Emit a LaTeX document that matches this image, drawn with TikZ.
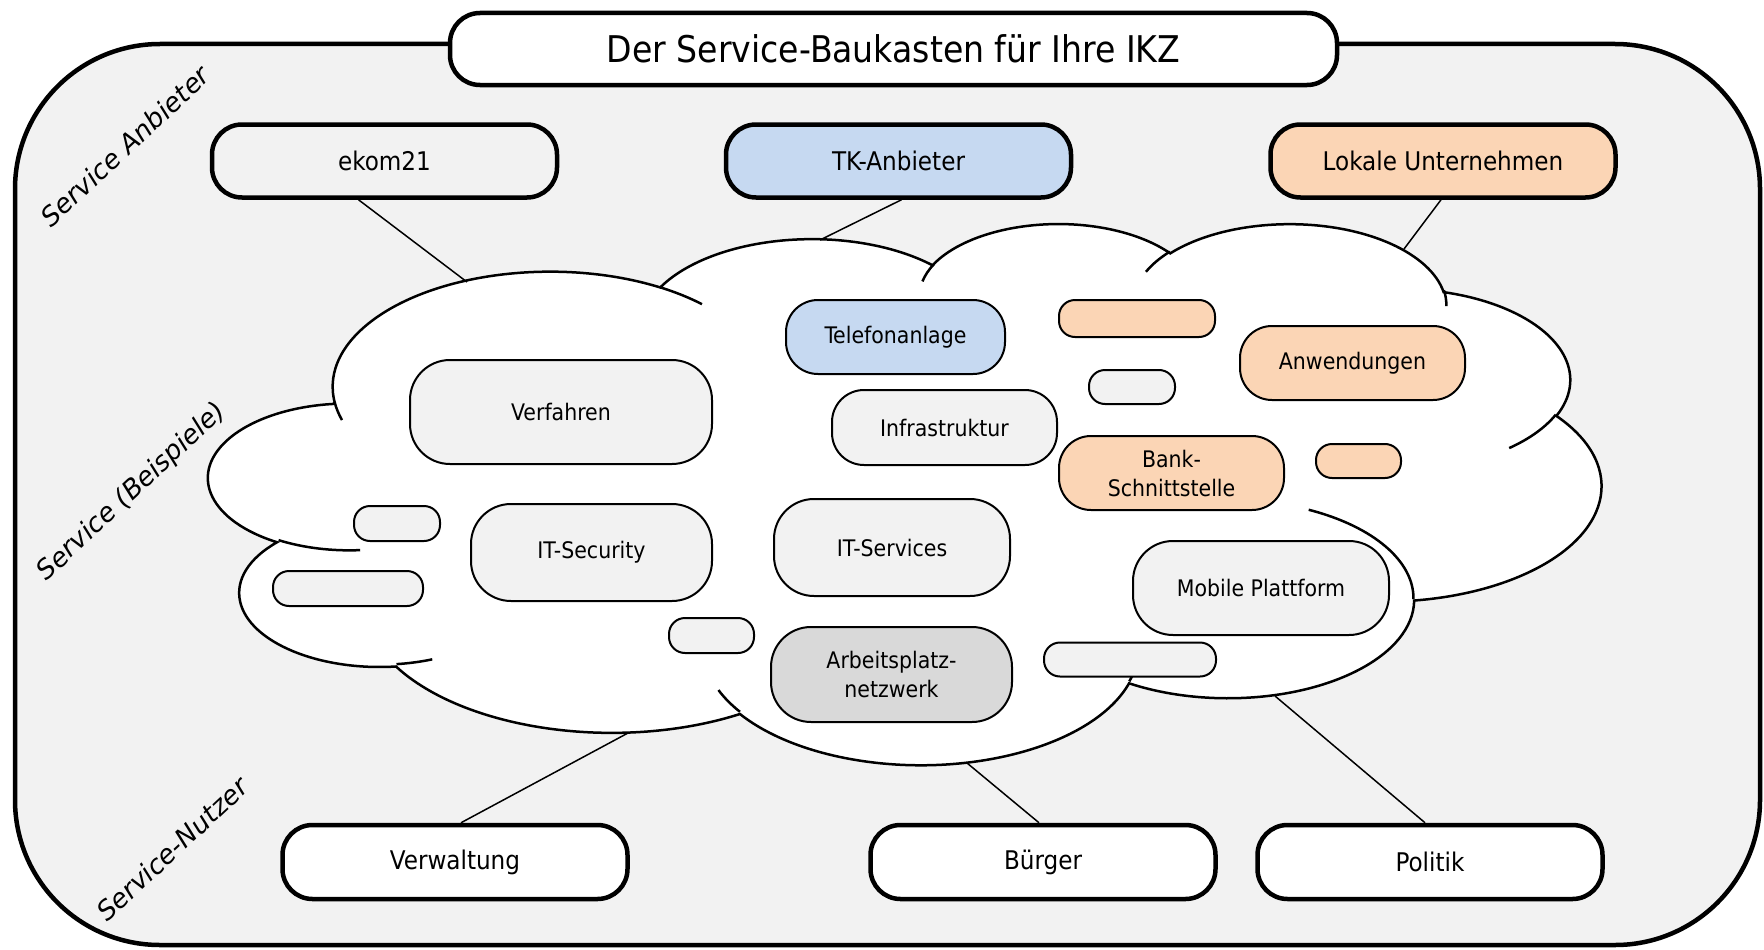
\documentclass[tikz,border=0pt]{standalone}
\usepackage{fontspec}
\setmainfont{DejaVu Sans Condensed}
\newfontfamily\labelfont{DejaVu Sans}
\definecolor{bggray}{HTML}{F2F2F2}
\definecolor{tkblue}{HTML}{C6D9F1}
\definecolor{peach}{HTML}{FBD5B5}
\definecolor{midgray}{HTML}{D9D9D9}
\def\cX{209}\def\cY{222.3}\def\cW{1392}\def\cH{541}
% arguments in thousandths of the 43200 grid (i.e. 6.753 for 6753)
\newcommand\defarc[5]{%
  \pgfmathsetmacro\tmprx{#2/43.2*\cW}%
  \pgfmathsetmacro\tmpry{#3/43.2*\cH}%
  \pgfmathsetmacro\tmpa{-atan2(sin(#4)*#2, cos(#4)*#3)}%
  \pgfmathsetmacro\tmpbr{-atan2(sin(#4+#5)*#2, cos(#4+#5)*#3)}%
  \pgfmathsetmacro\tmpb{\tmpbr+360*round((\tmpa-(#5)-\tmpbr)/360)}%
  \edef\tmpdo{\noexpand\tikzset{#1/.style={x radius=\tmprx pt, y radius=\tmpry pt, start angle=\tmpa, end angle=\tmpb}}}%
  \tmpdo}
\newcommand\cpt[3]{\coordinate (#1) at ({\cX+#2/43.2*\cW},{\cY+#3/43.2*\cH});}
\begin{document}
\begin{tikzpicture}[x=1pt,y=-1pt,
  base/.style={draw=black, rectangle, inner sep=0pt, align=center, text=black},
  provbox/.style={base, line width=4.5pt, minimum width=345pt, minimum height=73pt, rounded corners=30pt, font=\fontsize{25.7pt}{30pt}\selectfont},
  inbox/.style={base, line width=2pt, rounded corners=32pt, font=\fontsize{22.8pt}{29pt}\selectfont},
  bigbox/.style={inbox, rounded corners=40pt},
  smallbox/.style={base, line width=2pt, rounded corners=16pt},
  conn/.style={draw=black, line width=1.5pt},
  cloudline/.style={draw=black, line width=2.5pt},
  sidelabel/.style={font=\labelfont\itshape\fontsize{26.5pt}{30pt}\selectfont, rotate=43, inner sep=0pt},
]
\useasboundingbox (0,0) rectangle (1764,950);
% outer frame
\draw[line width=4.5pt, fill=bggray, rounded corners=145pt] (15,44) rectangle (1760,945);
% title
\node[base, fill=white, line width=4.5pt, rounded corners=30pt, minimum width=887pt, minimum height=72pt,
  font=\fontsize{36.8pt}{40pt}\selectfont] (title) at (893.5,49) {Der Service-Baukasten für Ihre IKZ};
% side labels
\node[sidelabel] (lanb) at (125,146) {Service Anbieter};
\node[sidelabel] (lbsp) at (132,492) {Service (Beispiele)};
\node[sidelabel] (lnut) at (172,849) {Service-Nutzer};
% cloud arcs
\defarc{ca1}{6.753}{9.190}{-190.4875}{123.7805}
\defarc{ca2}{5.333}{7.267}{-144.1024}{89.9452}
\defarc{ca3}{4.365}{5.945}{-145.8079}{99.7230}
\defarc{ca4}{4.857}{6.595}{-130.9861}{117.2417}
\defarc{ca5}{5.333}{7.273}{-78.7089}{109.0269}
\defarc{ca6}{6.775}{9.220}{-46.2673}{130.2690}
\defarc{ca7}{5.785}{7.867}{0.6250}{114.0333}
\defarc{ca8}{6.752}{9.215}{22.4516}{115.1726}
\defarc{ca9}{7.720}{10.543}{66.2426}{75.7110}
\defarc{ca10}{4.360}{5.918}{-274.9421}{146.7356}
\defarc{ca11}{4.345}{5.945}{-246.8285}{152.5189}
\defarc{cd1}{4.345}{5.945}{86.7420}{26.4295}
\defarc{cd2}{4.360}{5.918}{73.6105}{11.4475}
\defarc{cd3}{6.752}{9.215}{137.6242}{14.0811}
\defarc{cd4}{6.752}{9.215}{6.4533}{15.9984}
\defarc{cd5}{5.785}{7.867}{-70.2924}{70.9174}
\defarc{cd6}{5.333}{7.273}{30.3180}{27.7515}
\defarc{cd7}{4.857}{6.595}{-13.7443}{14.8589}
\defarc{cd8}{4.857}{6.595}{-149.1815}{18.1954}
\defarc{cd9}{4.365}{5.945}{-163.4943}{17.6864}
\defarc{cd10}{6.753}{9.190}{-66.7070}{12.3194}
\defarc{cd11}{6.753}{9.190}{157.6544}{11.8582}
\cpt{q0}{3.900}{14.370}
\cpt{d1}{4.693}{26.177}
\cpt{d2}{6.928}{34.899}
\cpt{d3}{16.478}{39.090}
\cpt{d4}{28.827}{34.751}
\cpt{d5}{34.129}{22.954}
\cpt{d6}{41.798}{15.354}
\cpt{d7}{38.324}{5.426}
\cpt{d8}{29.078}{3.952}
\cpt{d9}{22.141}{4.720}
\cpt{d10}{14.000}{5.192}
\cpt{d11}{4.127}{15.789}
\draw[cloudline, fill=white] (q0) arc[ca1] arc[ca2] arc[ca3] arc[ca4] arc[ca5] arc[ca6]
  arc[ca7] arc[ca8] arc[ca9] arc[ca10] arc[ca11] -- cycle;
\draw[cloudline] (d1) arc[cd1] (d2) arc[cd2] (d3) arc[cd3] (d4) arc[cd4] (d5) arc[cd5]
  (d6) arc[cd6] (d7) arc[cd7] (d8) arc[cd8] (d9) arc[cd9] (d10) arc[cd10] (d11) arc[cd11];
% providers
\node[provbox, fill=bggray] (ekom) at (384.5,161) {ekom21};
\node[provbox, fill=tkblue] (tk) at (898.5,161) {TK-Anbieter};
\node[provbox, fill=peach] (lok) at (1443,161) {Lokale Unternehmen};
% users
\node[provbox, fill=white, minimum height=74pt] (verw) at (455,862) {Verwaltung};
\node[provbox, fill=white, minimum height=74pt] (buerger) at (1043,862) {Bürger};
\node[provbox, fill=white, minimum height=74pt] (politik) at (1430,862) {Politik};
% cloud anchor points
\coordinate (k1) at (467,282);
\coordinate (k2) at (820,240);
\coordinate (k3) at (1404,249);
\coordinate (k4) at (628,733);
\coordinate (k5) at (967,763);
\coordinate (k6) at (1275,696);
\draw[conn] ([xshift=-26pt]ekom.south) -- (k1);
\draw[conn] ([xshift=3pt]tk.south) -- (k2);
\draw[conn] ([xshift=-2pt]lok.south) -- (k3);
\draw[conn] ([xshift=6pt]verw.north) -- (k4);
\draw[conn] ([xshift=-4pt]buerger.north) -- (k5);
\draw[conn] ([xshift=-5pt]politik.north) -- (k6);
% services
\node[inbox, fill=tkblue, minimum width=219pt, minimum height=74pt] (tel) at (895.5,337) {Telefonanlage};
\node[inbox, fill=bggray, minimum width=225pt, minimum height=75pt] (infra) at (944.5,427.5) {Infrastruktur};
\node[bigbox, fill=bggray, minimum width=302pt, minimum height=104pt] (verf) at (561,412) {Verfahren};
\node[inbox, fill=peach, minimum width=225pt, minimum height=74pt] (bank) at (1171.5,473) {Bank-\\Schnittstelle};
\node[inbox, fill=peach, minimum width=225pt, minimum height=74pt] (anw) at (1352.5,363) {Anwendungen};
\node[bigbox, fill=bggray, minimum width=241pt, minimum height=97pt] (itsec) at (591.5,552.5) {IT-Security};
\node[bigbox, fill=bggray, minimum width=236pt, minimum height=97pt] (itserv) at (892,547.5) {IT-Services};
\node[bigbox, fill=bggray, minimum width=256pt, minimum height=94pt] (mobil) at (1261,588) {Mobile Plattform};
\node[bigbox, fill=midgray, minimum width=241pt, minimum height=95pt] (arb) at (891.5,674.5) {Arbeitsplatz-\\netzwerk};
\node[smallbox, fill=peach, minimum width=156pt, minimum height=37pt] (ep1) at (1137,318.5) {};
\node[smallbox, fill=bggray, minimum width=86pt, minimum height=34pt] (eg1) at (1132,387) {};
\node[smallbox, fill=peach, minimum width=85pt, minimum height=34pt] (ep2) at (1358.5,461) {};
\node[smallbox, fill=bggray, minimum width=86pt, minimum height=35pt] (ega) at (397,523.5) {};
\node[smallbox, fill=bggray, minimum width=150pt, minimum height=35pt] (egb) at (348,588.5) {};
\node[smallbox, fill=bggray, minimum width=85pt, minimum height=35pt] (egc) at (711.5,635.5) {};
\node[smallbox, fill=bggray, minimum width=172pt, minimum height=34pt] (egd) at (1130,659.5) {};
\end{tikzpicture}
\end{document}
